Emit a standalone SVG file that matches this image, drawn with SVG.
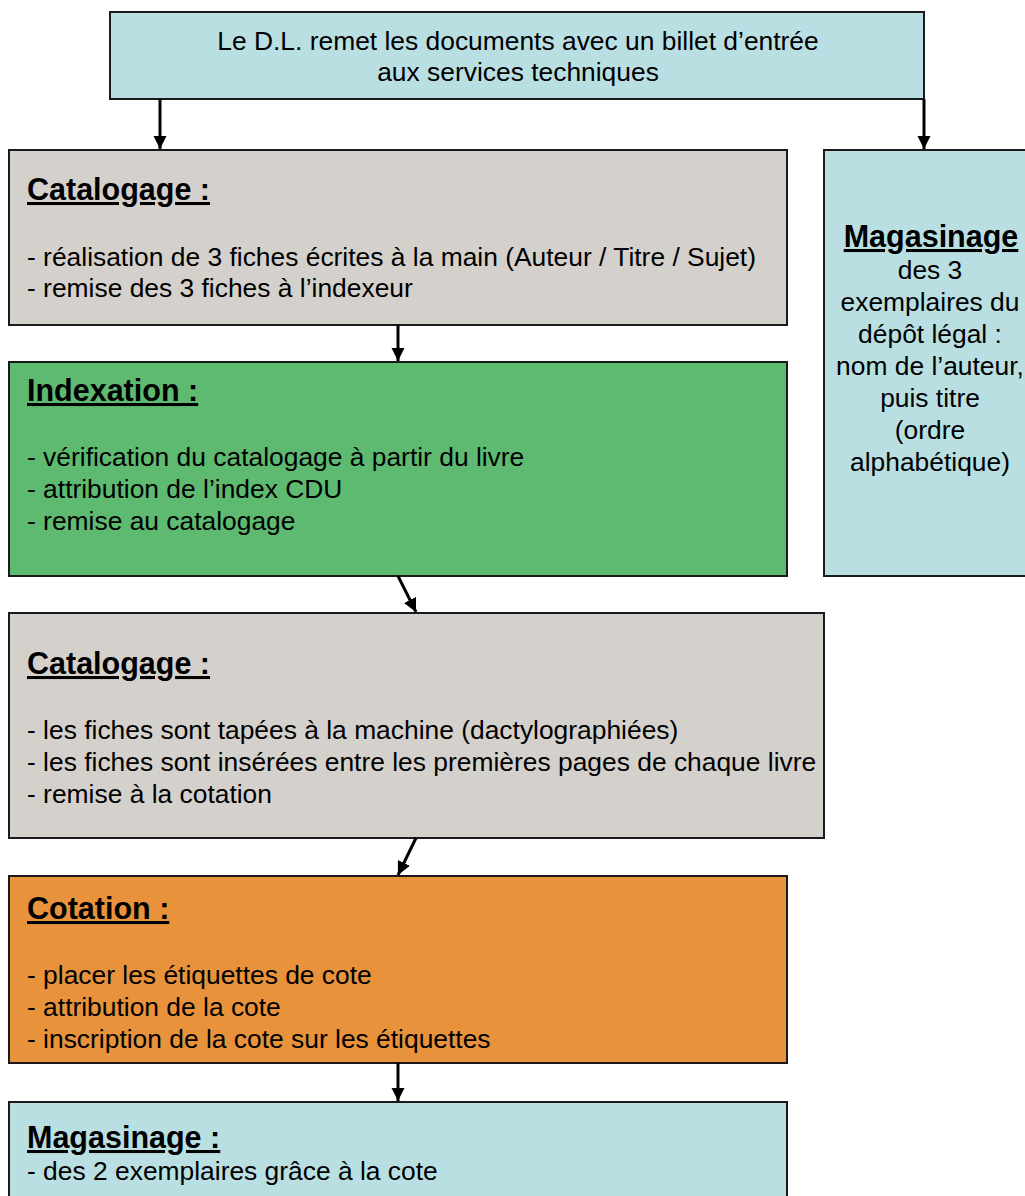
<svg xmlns="http://www.w3.org/2000/svg" width="1025" height="1196" viewBox="0 0 1025 1196">
  <style>
    .box { stroke: #1a1a1a; stroke-width: 2; }
    .blue { fill: #b9dfe3; }
    .grey { fill: #d4d0cc; }
    .green { fill: #5dba70; }
    .orange { fill: #e8923b; }
    text { font-family: "Liberation Sans", Arial, sans-serif; fill: #000; }
    .t { font-size: 26.4px; }
    .h { font-size: 30.5px; font-weight: bold; text-decoration: underline; }
    .c { text-anchor: middle; }
    .conn { stroke: #000; stroke-width: 3; fill: none; marker-end: url(#arrow); }
  </style>
  <defs>
    <marker id="arrow" viewBox="0 0 10 10" refX="10" refY="5" markerWidth="4.5" markerHeight="4.5" markerUnits="strokeWidth" orient="auto">
      <path d="M0,0 L10,5 L0,10 z" fill="#000"/>
    </marker>
  </defs>

  <rect width="1025" height="1196" fill="#fff"/>

  <g id="depot">
    <rect class="box blue" x="110" y="12" width="814" height="87"/>
    <text class="t c" x="518" y="50">Le D.L. remet les documents avec un billet d’entrée</text>
    <text class="t c" x="518" y="81">aux services techniques</text>
  </g>

  <g id="catalogage1">
    <rect class="box grey" x="9" y="150" width="778" height="175"/>
    <text class="h" x="27" y="200">Catalogage :</text>
    <text class="t" x="27" y="266">- réalisation de 3 fiches écrites à la main (Auteur / Titre / Sujet)</text>
    <text class="t" x="27" y="297">- remise des 3 fiches à l’indexeur</text>
  </g>

  <g id="magasinage-dl">
    <rect class="box blue" x="824" y="150" width="210" height="426"/>
    <text class="h c" x="931" y="247">Magasinage</text>
    <text class="t c" x="930" y="279">des 3</text>
    <text class="t c" x="930" y="311">exemplaires du</text>
    <text class="t c" x="930" y="343">dépôt légal :</text>
    <text class="t c" x="930" y="375">nom de l’auteur,</text>
    <text class="t c" x="930" y="407">puis titre</text>
    <text class="t c" x="930" y="439">(ordre</text>
    <text class="t c" x="930" y="471">alphabétique)</text>
  </g>

  <g id="indexation">
    <rect class="box green" x="9" y="362" width="778" height="214"/>
    <text class="h" x="27" y="401">Indexation :</text>
    <text class="t" x="27" y="466">- vérification du catalogage à partir du livre</text>
    <text class="t" x="27" y="498">- attribution de l’index CDU</text>
    <text class="t" x="27" y="530">- remise au catalogage</text>
  </g>

  <g id="catalogage2">
    <rect class="box grey" x="9" y="613" width="815" height="225"/>
    <text class="h" x="27" y="674">Catalogage :</text>
    <text class="t" x="27" y="739">- les fiches sont tapées à la machine (dactylographiées)</text>
    <text class="t" x="27" y="771">- les fiches sont insérées entre les premières pages de chaque livre</text>
    <text class="t" x="27" y="803">- remise à la cotation</text>
  </g>

  <g id="cotation">
    <rect class="box orange" x="9" y="876" width="778" height="187"/>
    <text class="h" x="27" y="919">Cotation :</text>
    <text class="t" x="27" y="984">- placer les étiquettes de cote</text>
    <text class="t" x="27" y="1016">- attribution de la cote</text>
    <text class="t" x="27" y="1048">- inscription de la cote sur les étiquettes</text>
  </g>

  <g id="magasinage-cote">
    <rect class="box blue" x="9" y="1102" width="778" height="110"/>
    <text class="h" x="27" y="1148">Magasinage :</text>
    <text class="t" x="27" y="1180">- des 2 exemplaires grâce à la cote</text>
  </g>

  <g id="connectors">
    <line class="conn" x1="160" y1="99" x2="160" y2="149"/>
    <line class="conn" x1="924" y1="99" x2="924" y2="149"/>
    <line class="conn" x1="398" y1="325" x2="398" y2="361"/>
    <line class="conn" x1="398" y1="576" x2="416" y2="612"/>
    <line class="conn" x1="416" y1="838" x2="398" y2="875"/>
    <line class="conn" x1="398" y1="1063" x2="398" y2="1101"/>
  </g>
</svg>
